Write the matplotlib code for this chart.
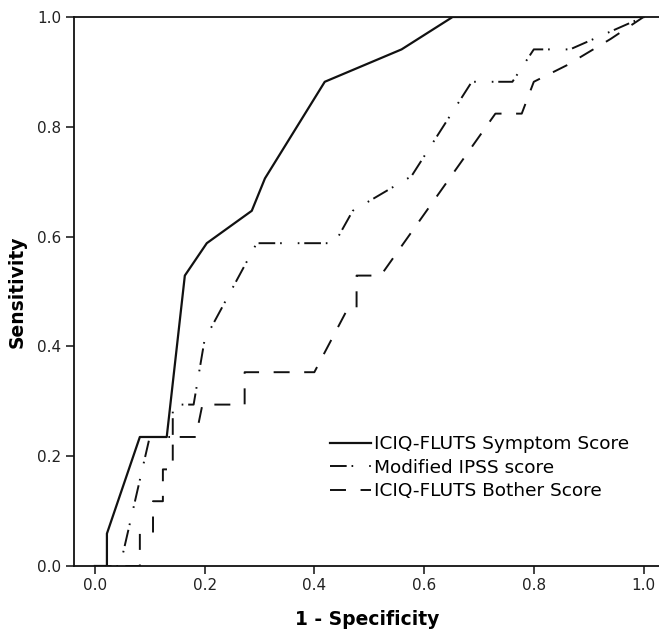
import matplotlib
matplotlib.use('Agg')
import matplotlib.pyplot as plt

plt.rcParams['font.family'] = ['DejaVu Sans']
plt.rcParams['lines.scale_dashes'] = False

# ROC curves (1 - specificity, sensitivity)
symptom_fpr = [0, 0.022, 0.022, 0.082, 0.131, 0.164, 0.204, 0.286, 0.310, 0.419, 0.559, 0.652, 1.0]
symptom_tpr = [0, 0, 0.059, 0.235, 0.235, 0.529, 0.588, 0.647, 0.706, 0.882, 0.941, 1.0, 1.0]

ipss_fpr = [0, 0.046, 0.100, 0.142, 0.142, 0.180, 0.200, 0.295, 0.437, 0.470, 0.577, 0.687, 0.761, 0.800, 0.866, 1.0]
ipss_tpr = [0, 0, 0.235, 0.235, 0.294, 0.294, 0.412, 0.588, 0.588, 0.647, 0.710, 0.882, 0.882, 0.941, 0.941, 1.0]

bother_fpr = [0, 0.082, 0.082, 0.106, 0.106, 0.124, 0.124, 0.142, 0.142, 0.184, 0.196, 0.273, 0.273,
              0.400, 0.462, 0.477, 0.477, 0.521, 0.730, 0.778, 0.800, 0.860, 0.940, 1.0]
bother_tpr = [0, 0, 0.059, 0.059, 0.118, 0.118, 0.176, 0.176, 0.235, 0.235, 0.294, 0.294, 0.353,
              0.353, 0.471, 0.471, 0.529, 0.529, 0.824, 0.824, 0.882, 0.912, 0.960, 1.0]

labels = ['ICIQ-FLUTS Symptom Score', 'Modified IPSS score', 'ICIQ-FLUTS Bother Score']
ticks = [0.0, 0.2, 0.4, 0.6, 0.8, 1.0]

W, H = 659, 630
fig = plt.figure(figsize=(W / 100, H / 100), dpi=100)
ax = fig.add_axes([74 / W, (H - 566) / H, (660 - 74) / W, 549 / H])

ax.plot(symptom_fpr, symptom_tpr, color='#111111', lw=1.6, ls='-', label=labels[0])
ax.plot(ipss_fpr, ipss_tpr, color='#111111', lw=1.4,
        ls=(0, (12, 3.5, 1.2, 11.5, 1.2, 3.5)), label=labels[1])
ax.plot(bother_fpr, bother_tpr, color='#111111', lw=1.4,
        ls=(0, (11.5, 10.5)), label=labels[2])

ax.set_xlim(-0.038, 1.03)
ax.set_ylim(0, 1.0)
ax.set_xticks(ticks)
ax.set_yticks(ticks)
ax.set_xticklabels([f'{t:.1f}' for t in ticks])
ax.set_yticklabels([f'{t:.1f}' for t in ticks])
ax.tick_params(direction='out', length=6, width=1.2, labelsize=11, colors='#222222', pad=3)

for s in ['left', 'top', 'bottom']:
    ax.spines[s].set_linewidth(1.3)
    ax.spines[s].set_color('#111111')
ax.spines['right'].set_visible(False)

ax.set_xlabel('1 - Specificity', fontsize=13.5, fontweight='bold', labelpad=12)
ax.set_ylabel('Sensitivity', fontsize=13.5, fontweight='bold', labelpad=8)

fig.legend(loc='upper left', bbox_to_anchor=(330 / W, 1 - 435 / H), frameon=False,
           fontsize=13.3, handlelength=2.2, handletextpad=0.2, labelspacing=0.3, borderpad=0,
           borderaxespad=0)

fig.savefig('out.png', dpi=100, facecolor='white')
